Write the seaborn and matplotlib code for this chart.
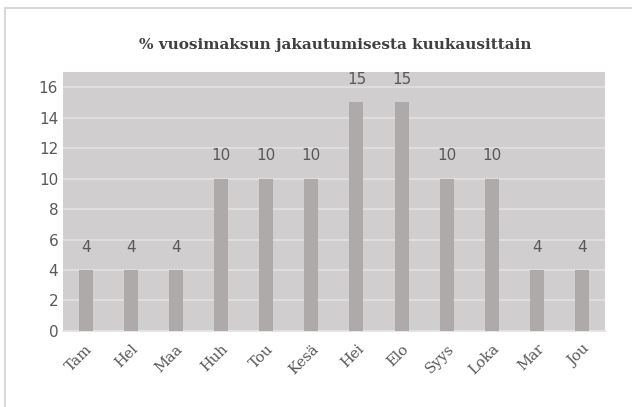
import matplotlib
matplotlib.use("Agg")
import matplotlib.pyplot as plt
import matplotlib.patches as mpatches
import seaborn as sns
import pandas as pd

# Kuukaudet ja osuudet (%)
kuukaudet = ["Tam", "Hel", "Maa", "Huh", "Tou", "Kesä", "Hei", "Elo", "Syys", "Loka", "Mar", "Jou"]
osuudet = [4, 4, 4, 10, 10, 10, 15, 15, 10, 10, 4, 4]
y_ticks = [0, 2, 4, 6, 8, 10, 12, 14, 16]
otsikko = "% vuosimaksun jakautumisesta kuukausittain"

df = pd.DataFrame({"kk": kuukaudet, "osuus": osuudet})

sns.set_theme(style="white")
plt.rcParams["font.family"] = ["DejaVu Sans"]

fig = plt.figure(figsize=(6.32, 4.07), dpi=100)
ax = fig.add_axes([0.0997, 0.187, 0.8573, 0.636])

# ulkoreunus
fig.patches.append(mpatches.Rectangle((5 / 632, -0.05), 1.0, 1 - 8 / 407 + 0.05,
                                      transform=fig.transFigure, fill=False,
                                      edgecolor="#d9d9d9", linewidth=1.5))

ax.set_facecolor("#d0cece")
sns.barplot(data=df, x="kk", y="osuus", color="#aeaaaa", width=0.31,
            saturation=1, linewidth=0, ax=ax, zorder=3)

ax.set_ylim(0, 17)
ax.set_yticks(y_ticks)
ax.yaxis.grid(True, color="#e2e2e2", linewidth=1.2, zorder=0)
ax.set_axisbelow(True)
for s in ["top", "right", "left"]:
    ax.spines[s].set_visible(False)
ax.spines["bottom"].set_color("#e2e2e2")
ax.spines["bottom"].set_linewidth(1.2)

for i, v in enumerate(osuudet):
    ax.text(i, v + 1.0, str(v), ha="center", va="bottom", fontsize=11, color="#595959")

ax.set_xlabel("")
ax.set_ylabel("")
ax.tick_params(axis="both", length=0, labelsize=11, colors="#595959")
ax.tick_params(axis="x", pad=8)
plt.setp(ax.get_xticklabels(), rotation=45, ha="right", rotation_mode="anchor",
         family="DejaVu Serif", fontsize=10.5)

fig.text(0.53, 0.89, otsikko, ha="center", va="center", fontsize=11,
         fontweight="bold", color="#404040", family="DejaVu Serif")

fig.savefig("out.png", dpi=100, facecolor="white")
